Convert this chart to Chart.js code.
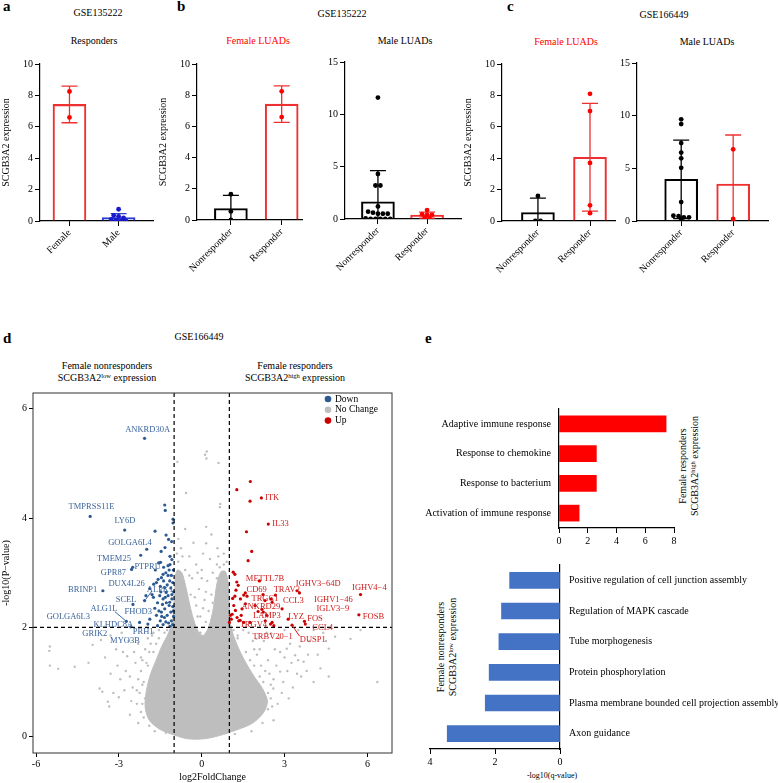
<!DOCTYPE html>
<html>
<head>
<meta charset="utf-8">
<title>SCGB3A2 expression and responders</title>
<script src="https://cdn.jsdelivr.net/npm/chart.js@4.4.1/dist/chart.umd.min.js"></script>
<style>
  body { margin: 0; background: #fff; }
  #fig { position: relative; width: 778px; height: 783px; overflow: hidden; background: #fff;
         font-family: "Liberation Serif", Tinos, "DejaVu Serif", "Times New Roman", Times, serif; color: #000; }
  #fig canvas { position: absolute; }
  .t { position: absolute; font-size: 10px; line-height: 12px; white-space: nowrap; text-align: center;
       transform: translate(-50%, -50%); }
  .lab { position: absolute; font-size: 15px; font-weight: bold; line-height: 15px; }
  .red { color: #ff0000; }
  .up { transform: translate(-50%, -50%) rotate(-90deg); }
  sup { font-size: 6.5px; line-height: 0; vertical-align: 3.5px; }
</style>
</head>
<body>
<div id="fig">
  <div class="lab" style="left:3px;top:-1px">a</div>
  <div class="lab" style="left:177px;top:-1px">b</div>
  <div class="lab" style="left:507px;top:-1px">c</div>
  <div class="lab" style="left:3px;top:331px">d</div>
  <div class="lab" style="left:425px;top:331px">e</div>

  <div class="t" style="left:98px;top:13px">GSE135222</div>
  <div class="t" style="left:94px;top:41px">Responders</div>
  <div class="t" style="left:342px;top:14px">GSE135222</div>
  <div class="t red" style="left:258px;top:41px">Female LUADs</div>
  <div class="t" style="left:405px;top:41px">Male LUADs</div>
  <div class="t" style="left:664px;top:15px">GSE166449</div>
  <div class="t red" style="left:566px;top:42px">Female LUADs</div>
  <div class="t" style="left:707px;top:42px">Male LUADs</div>

  <div class="t" style="left:199px;top:337px">GSE166449</div>
  <div class="t" style="left:107px;top:372px">Female nonresponders<br>SCGB3A2<sup>low</sup> expression</div>
  <div class="t" style="left:295px;top:372px">Female responders<br>SCGB3A2<sup>high</sup> expression</div>

  <div class="t up" style="left:689px;top:466px">Female responders<br>SCGB3A2<sup>high</sup> expression</div>
  <div class="t up" style="left:447px;top:647px">Female nonresponders<br>SCGB3A2<sup>low</sup> expression</div>
  <div class="t" style="left:552px;top:776px;font-size:8px">-log10(q-value)</div>

  <canvas id="cA"></canvas>
  <canvas id="cB1"></canvas>
  <canvas id="cB2"></canvas>
  <canvas id="cC1"></canvas>
  <canvas id="cC2"></canvas>
  <canvas id="cD"></canvas>
  <canvas id="cE1"></canvas>
  <canvas id="cE2"></canvas>
</div>

<script>
// ---- a: GSE135222 responders ----
const sexGroups = ['Female', 'Male'];
const aFemale = [8.25, 6.6];
const aMale = [0.75, 0.35, 0.3, 0.2, 0.1, 0.05, 0, 0];

// ---- b: GSE135222 by sex ----
const respGroups = ['Nonresponder', 'Responder'];
const bFemaleNon = [1.65, 0.55, 0];
const bFemaleResp = [8.25, 6.6];
const bMaleNon = [11.6, 4.3, 3.2, 3.2, 1.2, 0.7, 0.6, 0.5, 0.5, 0.5, 0.05, 0, 0, 0, 0, 0];
const bMaleResp = [0.85, 0.45, 0.4, 0.4, 0.1, 0.05];

// ---- c: GSE166449 by sex ----
const cFemaleNon = [1.6, 0, 0];
const cFemaleResp = [8.1, 7.0, 3.7, 1.0, 0.5];
const cMaleNon = [9.65, 9.2, 7.4, 6.5, 5.95, 5.05, 1.8, 0.5, 0.45, 0.35, 0.35, 0.2];
const cMaleResp = [6.8, 0.2];

const yTicks10 = [0, 2, 4, 6, 8, 10];
const yTicks15 = [0, 5, 10, 15];

// ---- d: volcano, [log2FC, -log10 p] ----
const fcCut = [-1, 1];
const pCut = 2;
const fcTicks = [-6, -3, 0, 3, 6];
const pTicks = [0, 2, 4, 6];

const downPts = [
  [-2.07,5.46],[-4.04,4.03],[-2.79,3.78],[-1.34,4.24],[-1.32,4.14],[-1.04,3.98],[-1.04,3.91],[-1.69,3.76],
  [-1.29,3.69],[-1.2,3.61],[-1.09,3.57],[-1.99,3.43],[-1.33,3.46],[-1.47,3.39],[-2.21,3.32],[-1.49,3.19],
  [-1.56,3.18],[-1.15,3.3],[-1.08,3.24],[-1.22,3.13],[-2.54,3.06],[-2.5,3.1],[-3.58,2.67],[-2.49,2.42],
  [-2.07,2.49],[-2.02,2.58],[-1.88,2.71],[-1.74,2.79],[-1.64,2.82],[-1.58,2.88],[-1.46,2.91],[-1.4,2.97],
  [-1.22,2.95],[-1.16,2.85],[-1.34,2.73],[-1.29,2.64],[-1.52,2.58],[-1.4,2.52],[-1.16,2.46],[-1.34,2.34],
  [-1.46,2.28],[-1.64,2.22],[-1.88,2.15],[-1.95,2.06],[-2.25,2.09],[-2.73,2.11],[-2.57,2.01],[-1.05,2.05],
  [-1.1,2.12],[-1.2,2.08],[-1.3,2.1],[-1.4,2.05],[-1.5,2.12],[-1.6,2.03],[-1.02,2.2],[-1.12,2.28],
  [-1.25,2.22],[-1.35,2.18],[-1.55,2.3],[-1.05,2.38],[-1.18,2.4],[-1.28,2.45],[-1.42,2.42],[-1.08,2.52],
  [-1.22,2.58],[-1.32,2.55],[-1.02,2.65],[-1.12,2.72],[-1.25,2.78],[-1.05,2.82],[-1.38,2.85],[-1.1,2.95],
  [-1.03,3.05],[-1.18,3.05],[-1.3,3.0],[-1.48,2.65],[-1.6,2.45],[-1.7,2.35],[-1.75,2.55],[-1.15,3.15],
  [-1.03,2.3],[-1.15,2.02],[-1.45,2.2],[-1.08,2.6],[-1.5,2.75],[-1.8,2.6],[-1.68,3.05],[-1.38,3.1]
];
const upPts = [
  [1.76,4.67],[1.27,4.52],[1.75,4.31],[2.16,4.37],[2.41,3.89],[1.62,3.75],[1.81,3.39],[1.68,3.22],
  [1.14,3.01],[1.2,2.97],[1.27,2.83],[2.09,2.85],[1.58,2.63],[1.52,2.59],[1.2,2.57],[1.12,2.53],
  [1.4,2.52],[2.67,2.59],[3.45,2.67],[3.54,2.63],[5.75,2.6],[5.69,2.23],[2.52,2.52],[2.55,2.46],
  [2.91,2.34],[1.58,2.43],[1.46,2.34],[1.16,2.4],[1.22,2.31],[2.3,2.12],[2.49,2.06],[2.55,2.09],
  [3.13,2.15],[3.72,2.11],[3.75,2.06],[3.27,2.04],[2.61,2.03],[1.52,2.09],[1.34,2.12],[1.28,2.18],
  [1.04,2.22],[1.0,2.09],[1.1,2.24],[1.07,2.15],[1.43,2.22],[1.39,2.13],[1.75,2.09],[2.04,2.29],
  [2.18,2.33],[2.29,2.49],[1.93,2.4],[1.24,2.68],[1.32,2.77],[1.64,2.57],[2.22,2.6],[2.23,2.28],[2.35,2.22]
];
const ncPts = [
  [-0.88,5.03],[0.12,5.16],[0.18,5.22],[0.17,5.09],[0.61,5.01],[-0.57,4.46],[0.67,4.26],[0.66,4.2],
  [0.16,3.84],[-0.6,3.8],[0.16,3.54],[0.57,3.45],[0.6,3.3],[-0.85,3.62],[-0.75,3.45],[-0.3,3.55],
  [0.35,3.7],[0.05,3.35],[-0.45,3.3],[0.3,3.25],[0.8,3.35],[-0.9,3.35],[-0.2,3.15],[0.55,3.15],
  [0.9,3.2],[0.0,3.05],[-0.6,3.05],[0.4,3.0],[0.75,2.95],[-0.35,2.9],[0.2,2.85],[0.9,2.7],
  [0.45,2.2],[0.5,1.95],[0.9,2.4],[0.75,2.6],[0.05,1.6],[-0.05,1.9],[0.15,2.1],[-0.2,2.4],
  [0.1,2.5],[0.25,2.3],[-0.1,2.7],[0.35,2.6],[-0.3,2.1],[0.2,1.9],[-0.15,2.2],[0.3,2.05],
  [-0.85,3.2],[-0.7,3.3],[0.65,3.1],[0.8,3.15],[-0.05,2.2],[0.05,2.35],[-0.25,2.55],[0.15,2.65],
  [0.4,2.45],[-0.4,2.6],[0.0,2.9],[-0.15,3.0],[0.55,2.9],[-0.45,2.95],
  [-5.5,1.65],[-5.52,1.57],[-5.5,1.3],[-5.2,1.24],[-4.6,1.28],[-3.95,1.68],[-3.65,1.77],[-3.3,1.85],
  [-3.1,1.6],[-2.85,1.55],[-2.7,1.47],[-3.7,0.88],[-3.6,0.82],[-3.4,0.64],[-3.35,0.55],[-3.2,0.8],
  [-3.0,0.72],[-2.75,1.2],[-2.6,1.1],[-2.4,1.35],[-2.45,1.55],[-2.3,1.7],[-2.2,1.45],[-2.5,0.9],
  [-2.35,0.6],[-2.6,0.4],[-2.2,1.2],[-2.05,1.6],[-1.95,1.8],[-2.1,0.35],[-2.3,0.25],[-1.75,1.9],
  [-1.55,1.95],[-1.85,1.7],[-2.9,1.9],[-2.15,0.95],[-2.0,1.35],[-2.1,1.0],[-2.05,0.7],[-1.95,1.3],
  [-1.75,1.55],[-1.55,1.8],[-2.2,0.45],[-1.9,0.2],[-2.25,0.8],[-1.9,1.55],[-1.65,1.7],[-1.35,1.9],
  [-1.25,1.95],[-2.15,0.6],[-1.7,0.1],[-1.3,0.07],[-2.3,1.05],[-2.35,0.85],[-2.15,1.4],[-1.8,1.85],
  [-3.05,1.3],[-2.95,1.05],[-3.3,1.15],[-2.8,0.85],[-3.5,1.45],[-4.1,1.35],[-2.65,1.75],[-2.55,0.65],
  [1.98,1.79],[2.25,1.75],[2.84,1.55],[3.08,1.61],[3.38,1.49],[3.69,1.37],[3.85,1.5],[4.05,1.0],
  [4.3,1.25],[2.84,1.19],[3.1,1.2],[2.23,1.0],[2.59,0.88],[2.9,0.8],[3.3,0.9],[6.36,1.0],
  [4.6,1.61],[5.39,1.79],[5.75,1.95],[4.05,1.95],[3.5,1.95],[4.83,1.83],[4.5,1.75],[3.49,1.4],
  [3.2,1.7],[2.52,1.89],[2.65,1.6],[2.4,1.4],[2.7,1.3],[3.0,1.45],[2.6,1.05],[2.75,0.6],
  [2.6,0.3],[2.5,0.7],[3.6,1.1],[4.2,1.5],[2.35,1.9],[1.7,1.9],[1.9,1.6],[2.15,1.3],
  [1.5,1.95],[1.3,1.85],[3.9,1.75],[4.6,1.1],[3.0,1.95],[1.9,1.3],[2.1,1.1],[2.4,0.8],
  [2.4,0.5],[2.2,0.25],[1.6,1.55],[1.3,1.8],[1.15,1.95],[2.0,1.5],[1.75,1.4],[2.3,1.2],
  [2.5,0.95],[1.8,0.1],[1.2,0.05],[2.45,1.15],[2.55,0.55],[2.1,1.6],[1.85,1.75],
  [3.25,1.35],[3.55,1.65],[2.95,1.0],[3.15,0.7],[3.8,1.2],[2.8,1.8],[4.4,1.9],[3.45,1.15]
];
// outline of the dense no-change cloud (too many genes to list one by one)
const ncCloud = [
  [-0.98,2.9],[-0.88,3.05],[-0.72,3.0],[-0.58,2.75],[-0.45,2.45],[-0.3,2.15],[-0.12,1.92],[0.05,1.85],
  [0.25,2.0],[0.42,2.35],[0.55,2.8],[0.7,3.02],[0.86,3.02],[0.96,2.8],[1.0,2.4],[1.05,2.05],
  [1.15,1.85],[1.35,1.6],[1.6,1.35],[1.9,1.1],[2.2,0.88],[2.38,0.65],[2.25,0.45],[1.85,0.25],
  [1.25,0.12],[0.65,0.02],[0.1,-0.04],[-0.5,-0.04],[-1.0,0.03],[-1.5,0.13],[-1.9,0.3],[-2.05,0.55],
  [-2.0,0.85],[-1.85,1.15],[-1.65,1.4],[-1.45,1.65],[-1.2,1.9],[-1.05,2.15],[-1.0,2.55]
];

// gene labels: name, text centre in data units
const downLabels = [
  ['ANKRD30A',-1.96,5.61],['TMPRSS11E',-3.99,4.2],['LY6D',-2.78,3.95],['GOLGA6L4',-2.6,3.55],
  ['TMEM25',-3.18,3.26],['PTPRU',-1.96,3.1],['GPR87',-3.2,3.0],['DUX4L26',-2.72,2.8],
  ['BRINP1',-4.31,2.68],['ALPK1',-1.51,2.69],['SCEL',-2.74,2.51],['ALG1L',-3.54,2.34],
  ['FHOD3',-2.3,2.29],['GOLGA6L3',-4.83,2.2],['KLHDC8A',-3.2,2.04],['GRIK2',-3.87,1.89],
  ['PRH1',-2.12,1.92],['MYO3B',-2.78,1.75]
];
const upLabels = [
  ['ITK',2.55,4.37],['IL33',2.85,3.89],['METTL7B',2.29,2.89],['IGHV3\u221264D',4.22,2.8],
  ['IGHV4\u22124',6.07,2.73],['CD69',1.99,2.69],['TRAV2',3.08,2.69],['TRGC1',2.29,2.53],
  ['CCL3',3.32,2.49],['IGHV1\u221246',4.77,2.51],['ANKRD29',2.14,2.38],['IGLV3\u22129',4.75,2.34],
  ['LAMP3',2.36,2.22],['LYZ',3.42,2.2],['FOS',4.1,2.16],['FOSB',6.22,2.19],
  ['TRGV4',1.87,2.04],['CCL4',4.38,1.99],['TRBV20\u22121',2.57,1.82],['DUSP1',4.02,1.78]
];
const labelLinks = [[-3.15,2.29,-2.73,2.11],[-2.03,2.51,-1.81,2.66],[3.27,2.04,3.54,1.84]];

// ---- e: GO terms, -log10(q) ----
const upTerms = ['Adaptive immune response', 'Response to chemokine', 'Response to bacterium',
  'Activation of immune response'];
const upQ = [7.45, 2.6, 2.6, 1.4];
const downTerms = ['Positive regulation of cell junction assembly', 'Regulation of MAPK cascade',
  'Tube morphogenesis', 'Protein phosphorylation', 'Plasma membrane bounded cell projection assembly',
  'Axon guidance'];
const downQ = [1.55, 1.8, 1.88, 2.18, 2.3, 3.47];

const FONT = '"Liberation Serif", Tinos, "DejaVu Serif", "Times New Roman", Times, serif';
const BLUE = '#2c5a91', RED = '#cc0000', GREY = '#bebebe';
Chart.defaults.font.family = FONT;
Chart.defaults.font.size = 10;
Chart.defaults.color = '#000';

function mean(a) { return a.reduce((s, v) => s + v, 0) / a.length; }
function sd(a) {
  const m = mean(a);
  return Math.sqrt(a.reduce((s, v) => s + (v - m) * (v - m), 0) / (a.length - 1));
}
function toXY(a) { return a.map(p => ({ x: p[0], y: p[1] })); }

function place(id, left, top, w, h) {
  const c = document.getElementById(id);
  c.width = w; c.height = h;
  c.style.left = left + 'px';
  c.style.top = top + 'px';
  return c;
}

// spread points with about the same value side by side
function swarm(vals, bin, step) {
  const bins = {};
  vals.forEach((v, i) => {
    const b = Math.round(v / bin);
    (bins[b] = bins[b] || []).push(i);
  });
  const off = vals.map(() => 0);
  Object.values(bins).forEach(idx => idx.forEach((i, k) => { off[i] = (k - (idx.length - 1) / 2) * step; }));
  return off;
}

const axisGrid = { drawOnChartArea: false, drawTicks: true, tickLength: 5, color: '#000', lineWidth: 1 };
const axisBorder = { color: '#000', width: 1.2 };

// mean +/- SD whiskers under the dots
const errorBars = {
  id: 'errorBars',
  beforeDatasetsDraw(chart) {
    const ds = chart.data.datasets.find(d => d.groupVals);
    if (!ds) return;
    const { ctx, scales: { x, y } } = chart;
    ctx.save();
    ctx.lineWidth = 1.3;
    ds.groupVals.forEach((vals, i) => {
      const m = mean(vals), s = sd(vals);
      const px = x.getPixelForValue(i);
      const top = y.getPixelForValue(m + s);
      const low = Math.max(m - s, 0);
      const bot = y.getPixelForValue(low);
      ctx.strokeStyle = ds.borderColor[i];
      ctx.beginPath();
      ctx.moveTo(px, bot); ctx.lineTo(px, top);
      ctx.moveTo(px - 8, top); ctx.lineTo(px + 8, top);
      if (low > 0) { ctx.moveTo(px - 8, bot); ctx.lineTo(px + 8, bot); }
      ctx.stroke();
    });
    ctx.restore();
  }
};

function dotPlot(id, box, area, groups, sets, o) {
  const [cl, ct, cw, ch] = box;
  const [pl, pt, pr, pb] = area;
  const datasets = sets.map((s, i) => {
    const off = swarm(s.vals, o.ymax / 30, 0.1);
    return {
      type: 'scatter', data: s.vals.map((v, k) => ({ x: i + off[k], y: v })),
      pointRadius: 2.4, pointBackgroundColor: s.dot, pointBorderWidth: 0, order: 0
    };
  });
  datasets.push({
    type: 'bar', data: sets.map((s, i) => ({ x: i, y: mean(s.vals) })),
    backgroundColor: 'rgba(0,0,0,0)', borderColor: sets.map(s => s.line), borderWidth: 1.4,
    barThickness: 33, order: 1, groupVals: sets.map(s => s.vals)
  });
  return new Chart(place(id, cl, ct, cw, ch), {
    type: 'scatter',
    data: { datasets },
    options: {
      responsive: false, animation: false,
      layout: { padding: { top: pt - ct, right: cl + cw - pr, left: 0, bottom: 0 } },
      plugins: { legend: { display: false }, tooltip: { enabled: false } },
      scales: {
        x: {
          type: 'linear', min: o.xr[0], max: o.xr[1], offset: false,
          afterBuildTicks: s => { s.ticks = groups.map((g, i) => ({ value: i })); },
          afterFit: s => { s.height = ct + ch - pb; },
          ticks: { callback: v => groups[v], minRotation: 45, maxRotation: 45, autoSkip: false, padding: 1 },
          grid: { ...axisGrid, offset: false }, border: axisBorder
        },
        y: {
          type: 'linear', min: 0, max: o.ymax,
          afterBuildTicks: s => { s.ticks = o.yticks.map(v => ({ value: v })); },
          afterFit: s => { s.width = pl - cl; },
          ticks: { padding: 2 },
          grid: axisGrid, border: axisBorder,
          title: { display: o.title, text: 'SCGB3A2 expression', padding: 0 }
        }
      }
    },
    plugins: [errorBars]
  });
}

const black = { line: '#000000', dot: '#000000' };
const red = { line: '#ee3030', dot: '#ff0000' };

dotPlot('cA', [0, 54, 160, 240], [40, 64, 153, 221], sexGroups,
  [{ vals: aFemale, ...red }, { vals: aMale, line: '#2b3fd1', dot: '#1a1acc' }],
  { xr: [-0.6, 1.7], ymax: 10, yticks: yTicks10, title: true });
dotPlot('cB1', [157, 54, 150, 240], [197, 64, 302, 220], respGroups,
  [{ vals: bFemaleNon, ...black }, { vals: bFemaleResp, ...red }],
  { xr: [-0.667, 1.4], ymax: 10, yticks: yTicks10, title: true });
dotPlot('cB2', [305, 54, 162, 240], [345, 62, 461, 219], respGroups,
  [{ vals: bMaleNon, ...black }, { vals: bMaleResp, ...red }],
  { xr: [-0.67, 1.69], ymax: 15, yticks: yTicks15, title: false });
dotPlot('cC1', [462, 54, 158, 240], [502, 64, 615, 221], respGroups,
  [{ vals: cFemaleNon, ...black }, { vals: cFemaleResp, ...red }],
  { xr: [-0.69, 1.48], ymax: 10, yticks: yTicks10, title: true });
dotPlot('cC2', [597, 54, 178, 240], [637, 63, 768, 221], respGroups,
  [{ vals: cMaleNon, ...black }, { vals: cMaleResp, ...red }],
  { xr: [-0.85, 1.67], ymax: 15, yticks: yTicks15, title: false });

// cut-off lines, frame, gene labels and legend of the volcano plot
const volcanoDeco = {
  id: 'volcanoDeco',
  afterDatasetsDraw(chart) {
    const { ctx, chartArea: a, scales: { x, y } } = chart;
    ctx.save();
    ctx.strokeStyle = '#000';
    ctx.lineWidth = 1.2;
    ctx.setLineDash([4, 3]);
    ctx.beginPath();
    fcCut.forEach(v => {
      const px = x.getPixelForValue(v);
      ctx.moveTo(px, a.top); ctx.lineTo(px, a.bottom);
    });
    const py = y.getPixelForValue(pCut);
    ctx.moveTo(a.left, py); ctx.lineTo(a.right, py);
    ctx.stroke();
    ctx.setLineDash([]);
    ctx.strokeStyle = '#333';
    ctx.lineWidth = 1;
    ctx.strokeRect(a.left, a.top, a.right - a.left, a.bottom - a.top);

    labelLinks.forEach(l => {
      ctx.strokeStyle = l[0] < 0 ? '#3b659c' : '#d01818';
      ctx.beginPath();
      ctx.moveTo(x.getPixelForValue(l[0]), y.getPixelForValue(l[1]));
      ctx.lineTo(x.getPixelForValue(l[2]), y.getPixelForValue(l[3]));
      ctx.stroke();
    });
    ctx.font = '8.5px ' + FONT;
    ctx.textAlign = 'center';
    ctx.textBaseline = 'middle';
    ctx.fillStyle = '#3b659c';
    downLabels.forEach(g => ctx.fillText(g[0], x.getPixelForValue(g[1]), y.getPixelForValue(g[2])));
    ctx.fillStyle = '#d01818';
    upLabels.forEach(g => ctx.fillText(g[0], x.getPixelForValue(g[1]), y.getPixelForValue(g[2])));

    // legend
    const items = ['Down', 'No Change', 'Up'].map(n => chart.data.datasets.find(d => d.label === n));
    ctx.font = '9.5px ' + FONT;
    ctx.textAlign = 'left';
    items.forEach((d, i) => {
      const cy = a.top + 6 + i * 10.8;
      ctx.fillStyle = d.pointBackgroundColor;
      ctx.beginPath();
      ctx.arc(a.right - 64, cy, 3.3, 0, Math.PI * 2);
      ctx.fill();
      ctx.fillStyle = '#000';
      ctx.fillText(d.label, a.right - 57, cy);
    });
    ctx.restore();
  }
};

new Chart(place('cD', 0, 385, 400, 398), {
  type: 'scatter',
  data: {
    datasets: [
      { label: 'Up', data: toXY(upPts), pointRadius: 1.6, pointBackgroundColor: RED, pointBorderWidth: 0 },
      { label: 'Down', data: toXY(downPts), pointRadius: 1.6, pointBackgroundColor: BLUE, pointBorderWidth: 0 },
      { label: 'No Change', data: toXY(ncPts), pointRadius: 1.2, pointBackgroundColor: GREY, pointBorderWidth: 0 },
      { label: 'cloud', data: toXY(ncCloud), showLine: true, fill: 'shape', tension: 0.3,
        backgroundColor: GREY, borderColor: GREY, borderWidth: 1, pointRadius: 0 }
    ]
  },
  options: {
    responsive: false, animation: false,
    layout: { padding: { top: 7, right: 8, left: 0, bottom: 0 } },
    plugins: { legend: { display: false }, tooltip: { enabled: false } },
    scales: {
      x: {
        min: -6.11, max: 6.89,
        afterBuildTicks: s => { s.ticks = fcTicks.map(v => ({ value: v })); },
        afterFit: s => { s.height = 30; },
        ticks: { padding: 1 },
        grid: { ...axisGrid, tickLength: 4 }, border: { display: false },
        title: { display: true, text: 'log2FoldChange', padding: 0 }
      },
      y: {
        min: -0.3, max: 6.29,
        afterBuildTicks: s => { s.ticks = pTicks.map(v => ({ value: v })); },
        afterFit: s => { s.width = 33; },
        ticks: { padding: 2 },
        grid: { ...axisGrid, tickLength: 4 }, border: { display: false },
        title: { display: true, text: '-log10(P\u2212value)', padding: 0 }
      }
    }
  },
  plugins: [volcanoDeco]
});

// e: enriched terms
new Chart(place('cE1', 420, 395, 265, 160), {
  type: 'bar',
  data: { labels: upTerms, datasets: [{ data: upQ, backgroundColor: '#ff0000', barThickness: 16 }] },
  options: {
    indexAxis: 'y', responsive: false, animation: false,
    layout: { padding: { top: 9, right: 11, left: 0, bottom: 0 } },
    plugins: { legend: { display: false }, tooltip: { enabled: false } },
    scales: {
      x: {
        min: 0, max: 8, ticks: { stepSize: 2, padding: 2 },
        grid: axisGrid, border: axisBorder,
        afterFit: s => { s.height = 27; }
      },
      y: {
        ticks: { padding: 8 },
        grid: { drawOnChartArea: false, drawTicks: false }, border: axisBorder,
        afterFit: s => { s.width = 139; }
      }
    }
  }
});

new Chart(place('cE2', 420, 550, 358, 233), {
  type: 'bar',
  data: { labels: downTerms, datasets: [{ data: downQ, backgroundColor: '#4472c4', barThickness: 16 }] },
  options: {
    indexAxis: 'y', responsive: false, animation: false,
    layout: { padding: { top: 7, right: 0, left: 10, bottom: 0 } },
    plugins: { legend: { display: false }, tooltip: { enabled: false } },
    scales: {
      x: {
        reverse: true, min: 0, max: 4, ticks: { stepSize: 2, padding: 2 },
        grid: axisGrid, border: axisBorder,
        afterFit: s => { s.height = 34; }
      },
      y: {
        position: 'right',
        ticks: { padding: 9 },
        grid: { drawOnChartArea: false, drawTicks: false }, border: axisBorder,
        afterFit: s => { s.width = 218; }
      }
    }
  }
});
</script>
</body>
</html>
